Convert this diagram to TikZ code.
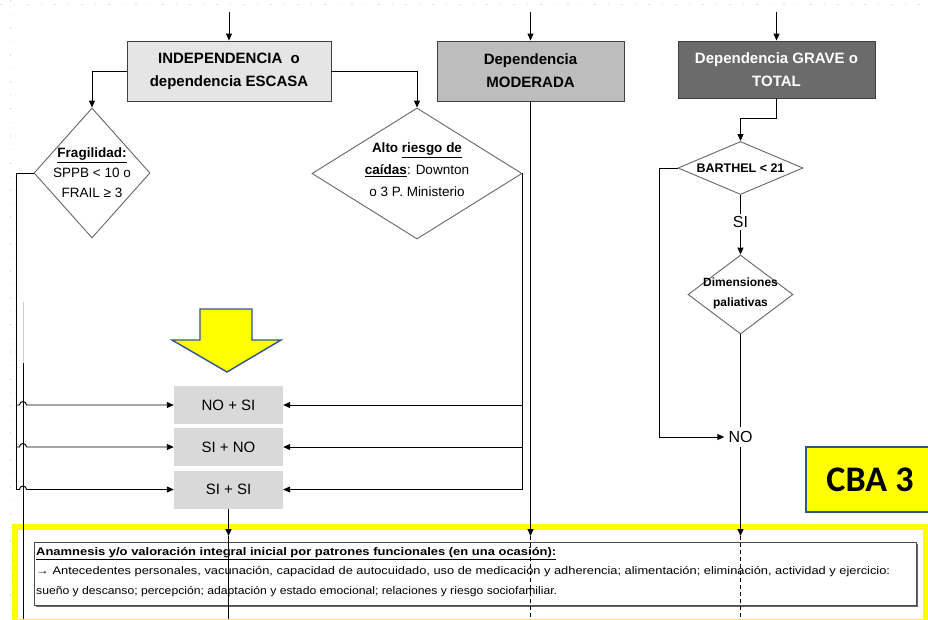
\documentclass[tikz,border=0pt]{standalone}
\usepackage{fontspec}
\setmainfont{Liberation Sans}
\newfontfamily\cbafont{Carlito}
\usetikzlibrary{arrows.meta,shapes.geometric,shadows}
\definecolor{frameyellow}{HTML}{FFFF00}
\definecolor{edgeblue}{HTML}{2F5496}
\definecolor{gridtint}{HTML}{D6E4EA}
\begin{document}
\begin{tikzpicture}[x=1pt,y=-1pt,
  conn/.style={draw=black, line width=0.9pt},
  arr/.style={conn, -{Triangle[length=7pt,width=6pt]}},
  dashconn/.style={conn, dash pattern=on 4pt off 3pt},
  levelbox/.style={draw=black!75, line width=0.9pt, align=center, inner sep=0pt,
    font=\fontsize{15}{23}\selectfont\bfseries},
  decision/.style={diamond, draw=black!60, line width=0.9pt, fill=white, inner sep=0pt},
  dtext/.style={align=center, inner sep=0pt},
  combo/.style={fill=black!15, minimum width=109pt, minimum height=38pt, inner sep=0pt,
    font=\fontsize{15}{18}\selectfont},
  gridline/.style={draw=gridtint, line width=0.7pt, dash pattern=on 1.5pt off 12pt},
]
\useasboundingbox (0,0) rectangle (928,619);

% faint page grid
\draw[gridline] (0,4) -- (928,4);
\draw[gridline] (10,0) -- (10,619);

% bottom frame and summary box
\draw[draw=frameyellow, line width=6pt] (14.5,526.5) rectangle (926,622);
\node[draw=black!70, fill=white, line width=0.8pt, minimum width=882pt, minimum height=63pt,
  inner sep=0pt, drop shadow={shadow xshift=1.6pt, shadow yshift=-1.6pt, fill=black!60, opacity=1}]
  (ana) at (475,573.5) {};
\node[anchor=west, align=left, inner sep=0pt, font=\fontsize{11}{19.5}\selectfont] (anatext) at (36,572)
  {\resizebox{520pt}{\height}{\textbf{\underline{Anamnesis y/o valoración integral inicial por patrones funcionales (en una ocasión):}}}\\
   \resizebox{854pt}{\height}{→ Antecedentes personales, vacunación, capacidad de autocuidado, uso de medicación y adherencia; alimentación; eliminación, actividad y ejercicio:}\\
   \resizebox{521pt}{\height}{sueño y descanso; percepción; adaptación y estado emocional; relaciones y riesgo sociofamiliar.}};

% CBA label
\node[draw=edgeblue, fill=frameyellow, line width=2pt, minimum width=129pt, minimum height=65pt,
  inner sep=0pt] (cba) at (870.5,479.5) {};
\node[font=\cbafont\fontsize{36}{36}\selectfont\bfseries, inner sep=0pt] (cbatext) at (870,480) {CBA 3};

% dependency level boxes
\node[levelbox, fill=black!10, minimum width=204pt, minimum height=60pt] (b1) at (229,71)
  {INDEPENDENCIA\ \ o\\dependencia ESCASA};
\node[levelbox, fill=black!26, minimum width=187pt, minimum height=60pt] (b2) at (530.5,71)
  {Dependencia\\MODERADA};
\node[levelbox, fill=black!58, text=white, minimum width=197pt, minimum height=57pt] (b3) at (776.5,69.5)
  {Dependencia GRAVE o\\TOTAL};

% incoming arrows
\coordinate (in1) at (229,12);
\coordinate (in2) at (530.5,12);
\coordinate (in3) at (776.5,12);
\draw[arr] (in1) -- (b1.north);
\draw[arr] (in2) -- (b2.north);
\draw[arr] (in3) -- (b3.north);

% decisions
\node[decision, minimum width=116pt, minimum height=130pt] (d1) at (92,173) {};
\node[dtext, font=\fontsize{13.5}{20}\selectfont] (t1) at (92,173)
  {\textbf{\underline{Fragilidad:}}\\SPPB < 10 o\\FRAIL ≥ 3};
\node[decision, minimum width=210pt, minimum height=131pt] (d2) at (417,173.5) {};
\node[dtext, font=\fontsize{13.5}{22}\selectfont] (t2) at (417,170)
  {\textbf{Alto \underline{riesgo de}}\\\textbf{\underline{caídas}}: Downton\\o 3 P. Ministerio};
\node[decision, minimum width=125pt, minimum height=53pt] (d3) at (740.5,168) {};
\node[dtext, font=\fontsize{12.5}{15}\selectfont\bfseries] (t3) at (740.5,168) {BARTHEL < 21};
\node[decision, minimum width=105pt, minimum height=79pt] (d4) at (740.5,294.5) {};
\node[dtext, font=\fontsize{12}{20}\selectfont\bfseries] (t4) at (740.5,293) {Dimensiones\\paliativas};

\node[font=\fontsize{16}{16}\selectfont, inner sep=2pt] (si) at (740.5,222) {SI};
\node[font=\fontsize{16}{16}\selectfont, inner sep=4pt] (no) at (740.5,437) {NO};

% combinations
\node[combo] (r1) at (228.5,405) {NO + SI};
\node[combo] (r2) at (228.5,447) {SI + NO};
\node[combo] (r3) at (228.5,489.5) {SI + SI};

% yellow pointer
\draw[draw=edgeblue, fill=frameyellow, line width=1.4pt, line join=miter]
  (200,309) -- (252,309) -- (252,340) -- (281,340) -- (227,372) -- (172,340) -- (200,340) -- cycle;

% branches out of the first box
\draw[arr] (b1.west) -| (d1.north);
\draw[arr] (b1.east) -| (d2.north);

% left rail
\coordinate (lr0) at (16,173);
\coordinate (lr3) at (16,489.5);
\draw[conn] (d1.west) -- (lr0) -- (lr3);
\foreach \r/\yy in {r1/405, r2/447, r3/489.5}{
  \draw[arr] (16,\yy) -- (19.5,\yy) arc[start angle=180, end angle=360, radius=3.5] -- (\r.west);
}
% crossing vertical line
\coordinate (vx0) at (23,302);
\coordinate (vx1) at (23,363);
\coordinate (vx2) at (23,619);
\draw[draw=black!20, line width=0.8pt] (vx0) -- (vx1);
\draw[conn] (vx1) -- (vx2);

% right rail
\coordinate (rr0) at (522,173.5);
\coordinate (rr3) at (522,489.5);
\draw[conn] (d2.east) -- (rr0) -- (rr3);
\foreach \r/\yy in {r1/405, r2/447, r3/489.5}{
  \draw[arr] (522,\yy) -- (\r.east);
}

% severe dependency column
\draw[arr] (b3.south) -- ++(0,20) -| (d3.north);
\draw[conn] (d3.south) -- (si.north);
\draw[arr] (si.south) -- (d4.north);
\draw[conn] (d4.south) -- (no.north);
\draw[arr] (d3.west) -- ++(-18.5,0) |- (no.west);

% flows into the summary box
\coordinate (e1) at (228.5,536);
\coordinate (e2) at (530.5,536);
\coordinate (e3) at (740.5,536);
\coordinate (f1) at (228.5,619);
\coordinate (f2) at (530.5,619);
\coordinate (f3) at (740.5,619);
\draw[arr] (r3.south) -- (e1);
\draw[conn] (e1) -- (f1);
\draw[arr] (b2.south) -- (e2);
\draw[dashconn] (e2) -- (f2);
\draw[arr] (no.south) -- (e3);
\draw[dashconn] (e3) -- (f3);
\end{tikzpicture}
\end{document}
